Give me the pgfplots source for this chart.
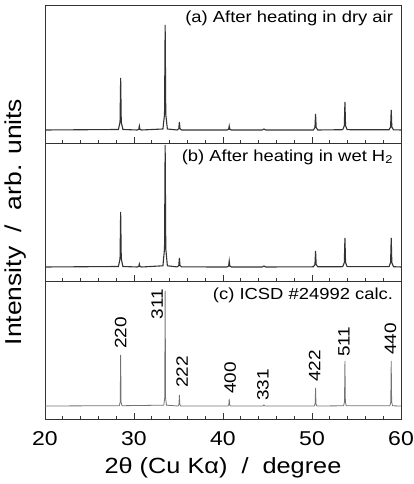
\documentclass[border=0pt]{standalone}
\usepackage{fontspec}
\setmainfont[FakeStretch=1.15]{Liberation Sans}
\usepackage{pgfplots}
\pgfplotsset{compat=1.18}

\pgfplotsset{
  panel/.style={
    width=356pt, height=138pt, scale only axis,
    xmin=20, xmax=60, ymin=0, ymax=138,
    ytick=\empty,
    xtick={20,30,...,60}, minor x tick num=4,
    xtick pos=bottom, tick align=inside,
    major tick length=7pt, minor tick length=4pt,
    every tick/.style={black!80, line width=0.8pt},
    axis line style={line width=1pt, black!80},
    /pgf/number format/assume math mode=true,
  },
}
\tikzset{
  panellabel/.style={anchor=north east, font=\fontsize{16}{18}\selectfont, inner sep=0pt},
  hkl/.style={rotate=90, anchor=west, font=\fontsize{16.5}{18}\selectfont, inner sep=0pt},
}

\begin{document}
\begin{tikzpicture}
% (c) calculated pattern
\begin{axis}[panel, at={(45pt,64pt)}, anchor=south west,
  xticklabel style={font=\fontsize{20}{22}\selectfont, yshift=-8pt}]
\addplot[black!55, line width=0.8pt] coordinates {
(20,14)
(28.35,14.3)(28.45,18)(28.5,65)(28.55,18)(28.65,14.3)
(33.35,14.8)(33.45,22)(33.5,129)(33.55,22)(33.65,14.8)
(34.95,14)(35.05,15.5)(35.1,25)(35.15,15.5)(35.25,14)
(40.55,14)(40.65,15)(40.7,21)(40.75,15)(40.85,14)
(44.5,14)(44.6,15)(44.7,14)
(50.25,14)(50.35,16)(50.4,32)(50.45,16)(50.55,14)
(53.55,14.2)(53.65,18)(53.7,59)(53.75,18)(53.85,14.2)
(58.75,14.2)(58.85,18)(58.9,59)(58.95,18)(59.05,14.2)
(60,14)
};
\node[panellabel] at (rel axis cs:0.978,0.955) {(c) ICSD \#24992 calc.};
\node[hkl] at (axis cs:28.5,71) {220};
\node[rotate=90, anchor=east, font=\fontsize{16.5}{18}\selectfont, inner sep=0pt] at (axis cs:32.6,131) {311};
\node[hkl] at (axis cs:35.4,32) {222};
\node[hkl] at (axis cs:40.8,26) {400};
\node[hkl] at (axis cs:44.5,19) {331};
\node[hkl] at (axis cs:50.3,38) {422};
\node[hkl] at (axis cs:53.6,63) {511};
\node[hkl] at (axis cs:58.8,65) {440};
\end{axis}

% (b) wet H2
\begin{axis}[panel, at={(45pt,202pt)}, anchor=south west, xticklabels={}]
\addplot[black!80, line width=1.1pt] coordinates {
(20,15)
(28.25,15.5)(28.43,23.3)(28.5,70)(28.57,23.3)(28.75,15.5)
(30.35,15)(30.53,15.5)(30.6,18)(30.67,15.5)(30.85,15)
(33.25,16.2)(33.43,33.3)(33.5,137)(33.57,33.3)(33.75,16.2)
(34.85,15.1)(35.03,16.4)(35.1,24)(35.17,16.4)(35.35,15.1)
(40.45,15)(40.63,15.9)(40.7,21)(40.77,15.9)(40.95,15)
(44.4,15)(44.6,16)(44.8,15)
(50.15,15.2)(50.33,17.4)(50.4,31)(50.47,17.4)(50.65,15.2)
(53.45,15.3)(53.63,19.4)(53.7,44)(53.77,19.4)(53.95,15.3)
(58.65,15.3)(58.83,19.4)(58.9,44)(58.97,19.4)(59.15,15.3)
(60,15)
};
\node[panellabel] at (rel axis cs:0.978,0.96) {(b) After heating in wet H\textsubscript{2}};
\end{axis}

% (a) dry air
\begin{axis}[panel, at={(45pt,340pt)}, anchor=south west, xticklabels={}]
\addplot[black!80, line width=1.1pt] coordinates {
(20,14)
(28.25,14.5)(28.43,21.8)(28.5,66)(28.57,21.8)(28.75,14.5)
(30.35,14)(30.53,14.6)(30.6,18)(30.67,14.6)(30.85,14)
(33.25,15)(33.43,29.8)(33.5,119)(33.57,29.8)(33.75,15)
(34.85,14)(35.03,15.2)(35.1,22)(35.17,15.2)(35.35,14)
(40.45,14)(40.63,14.6)(40.7,18)(40.77,14.6)(40.95,14)
(44.4,14)(44.6,15)(44.8,14)
(50.15,14)(50.33,16.4)(50.4,30)(50.47,16.4)(50.65,14)
(53.45,14.3)(53.63,18.2)(53.7,42)(53.77,18.2)(53.95,14.3)
(58.65,14.2)(58.83,17)(58.9,34)(58.97,17)(59.15,14.2)
(60,14)
};
\node[panellabel] at (rel axis cs:0.978,0.965) {(a) After heating in dry air};
\end{axis}

\node[rotate=90, font=\fontsize{23}{25}\selectfont, inner sep=0pt] at (16pt,262pt) {Intensity\ \ /\ \ arb. units};
\node[font=\fontsize{22}{24}\selectfont, inner sep=0pt] at (223pt,16pt) {2θ (Cu Kα)\ \ /\ \ degree};

\pgfresetboundingbox
\path[use as bounding box] (0,0) rectangle (414pt,484pt);
\end{tikzpicture}
\end{document}
